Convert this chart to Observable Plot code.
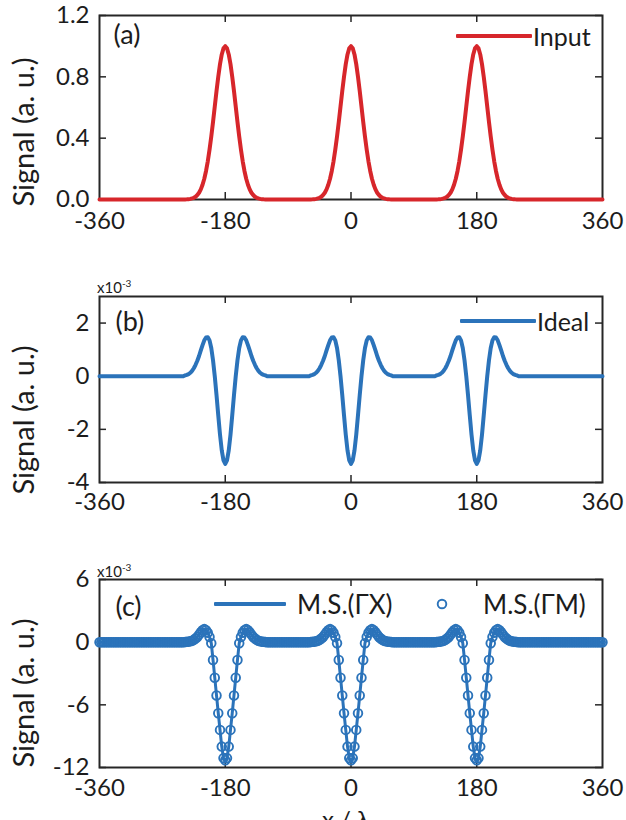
<!DOCTYPE html>
<html><head><meta charset="utf-8">
<script src="https://cdn.jsdelivr.net/npm/d3@7"></script>
<script src="https://cdn.jsdelivr.net/npm/@observablehq/plot@0.6"></script>
<style>
body{margin:0;background:#fff;}
#fig{position:relative;width:626px;height:820px;overflow:hidden;font-family:Lato,"Open Sans",sans-serif;color:#1c1c1c;}
#fig svg{position:absolute;left:0;}
.ov{position:absolute;white-space:nowrap;line-height:30px;height:30px;font-size:25px;}
.sw{position:absolute;height:4px;border-radius:1px;}
.yl{position:absolute;white-space:nowrap;font-size:29px;line-height:1;transform:translate(-50%,-50%) rotate(-90deg);}
</style></head><body><div id="fig"></div>
<script>
// ---- data ----
const xTickValues = [-360, -180, 0, 180, 360];
const innerXTicks = [-180, 0, 180];
const pulseCenters = [-180, 0, 180];
const pulseOffsets = [0,2.5,5,7.5,10,12.5,15,17.5,20,22.5,25,27.5,30,32.5,35,37.5,40,42.5,45,47.5,50,52.5,55,57.5,60];
// (a) input pulse shape (a.u.)
const inputShape = [1.000,0.986,0.946,0.883,0.801,0.707,0.607,0.506,0.411,0.325,0.249,0.186,0.135,0.096,0.066,0.044,0.029,0.018,0.011,0.007,0.004,0.002,0.001,0.0005,0];
// (b) ideal response (x1e-3)
const idealShape = [-3.30,-3.17,-2.79,-2.20,-1.47,-0.71,0,0.60,1.06,1.35,1.47,1.46,1.35,1.17,0.97,0.76,0.58,0.43,0.30,0.20,0.13,0.08,0.05,0.03,0];
// (c) metasurface response (x1e-3)
const measShape = [-11.3,-11.1,-10.0,-8.4,-6.8,-5.1,-3.4,-1.7,-0.1,0.5,0.9,1.15,1.25,1.15,0.95,0.72,0.5,0.35,0.22,0.14,0.08,0.05,0.03,0.01,0];
const yTicksA = [0, 0.4, 0.8, 1.2];
const yTicksB = [-4, -2, 0, 2];
const yTicksC = [-12, -6, 0, 6];

const RED = "#d7262b", BLUE = "#2b73ba", INK = "#262626";
const FONT = "Lato, 'Open Sans', sans-serif";

const xGrid = d3.range(-360, 360 + 1e-9, 2.5);
function build(shape) {
  return xGrid.map(x => {
    const d = d3.min(pulseCenters, c => Math.abs(x - c));
    const i = pulseOffsets.indexOf(d);
    return {x, y: i >= 0 ? shape[i] : 0};
  });
}
const dataA = build(inputShape), dataB = build(idealShape), dataC = build(measShape);

const fig = document.getElementById("fig");
const ML = 99, MR = 24, W = 626;

function panel(p) {
  const fw = W - ML - MR, fh = p.height - p.mt - p.mb;
  const tk = {stroke: INK, strokeWidth: 1.5};
  const marks = [
    Plot.tickX(innerXTicks, {x: d => d, insetTop: fh - 7, ...tk}),
    Plot.tickX(innerXTicks, {x: d => d, insetBottom: fh - 7, ...tk}),
    Plot.tickY(p.yTicks, {y: d => d, insetRight: fw - 7, ...tk}),
    Plot.tickY(p.yTicks, {y: d => d, insetLeft: fw - 7, ...tk}),
    Plot.frame({stroke: INK, strokeWidth: 2}),
    Plot.axisX(xTickValues, {anchor: "bottom", tickSize: 0, tickPadding: p.xpad, fontSize: 24, tickFormat: d => String(d), label: null}),
    Plot.axisY(p.yTicks, {anchor: "left", tickSize: 0, tickPadding: 10, fontSize: 24, tickFormat: p.fmt, label: null}),
    ...p.marks,
    Plot.text([p.tag], {frameAnchor: "top-left", dx: p.tagDx, dy: p.tagDy, textAnchor: "start", lineAnchor: "middle", fontSize: 27})
  ];
  const svg = Plot.plot({
    width: W, height: p.height, marginLeft: ML, marginRight: MR, marginTop: p.mt, marginBottom: p.mb,
    x: {domain: [-360, 360]}, y: {domain: p.ydomain},
    style: {fontFamily: FONT, fontSize: "24px", color: "#1c1c1c", background: "transparent", overflow: "visible"},
    marks
  });
  svg.style.top = p.top + "px";
  fig.appendChild(svg);
  const yl = document.createElement("div"); yl.className = "yl";
  yl.style.left = "22px"; yl.style.top = p.labY + "px"; yl.textContent = "Signal (a. u.)";
  fig.appendChild(yl);
}

panel({top: 0, height: 250, mt: 15, mb: 51, ydomain: [0, 1.2], yTicks: yTicksA, fmt: d => d.toFixed(1),
  tag: "(a)", tagDx: 14, tagDy: 20, labY: 132, xpad: 12,
  marks: [Plot.line(dataA, {x: "x", y: "y", stroke: RED, strokeWidth: 4})]});
panel({top: 255, height: 270, mt: 41, mb: 43, ydomain: [-4, 3], yTicks: yTicksB, fmt: d => String(d),
  tag: "(b)", tagDx: 16, tagDy: 26, labY: 420, xpad: 10,
  marks: [Plot.line(dataB, {x: "x", y: "y", stroke: BLUE, strokeWidth: 4})]});
panel({top: 530, height: 290, mt: 49, mb: 53, ydomain: [-12, 6], yTicks: yTicksC, fmt: d => String(d),
  tag: "(c)", tagDx: 16, tagDy: 28, labY: 693, xpad: 11,
  marks: [
    Plot.line(dataC, {x: "x", y: "y", stroke: BLUE, strokeWidth: 3}),
    Plot.dot(dataC, {x: "x", y: "y", r: 4.3, stroke: BLUE, fill: "none", strokeWidth: 1.9})
  ]});

// ---- overlays: legends, exponent, clipped x label ----
function sw(left, cy, w, color) {
  const d = document.createElement("div"); d.className = "sw";
  d.style.left = left + "px"; d.style.top = (cy - 2) + "px"; d.style.width = w + "px"; d.style.background = color;
  fig.appendChild(d);
}
function txt(left, cy, s, size) {
  const d = document.createElement("div"); d.className = "ov";
  d.style.left = left + "px"; d.style.top = (cy - 15) + "px";
  if (size) d.style.fontSize = size + "px";
  d.innerHTML = s; fig.appendChild(d);
}
sw(456, 36, 76, RED); txt(533, 36, "Input");
sw(460, 321, 76, BLUE); txt(537, 321, "Ideal");
sw(214, 604, 72, BLUE); txt(297, 604, "M.S.(ΓX)", 26);
(function(){
  const ns = "http://www.w3.org/2000/svg";
  const s = document.createElementNS(ns, "svg");
  s.setAttribute("width", 14); s.setAttribute("height", 14);
  s.style.position = "absolute"; s.style.left = "435px"; s.style.top = "597px";
  const c = document.createElementNS(ns, "circle");
  c.setAttribute("cx", 7); c.setAttribute("cy", 7); c.setAttribute("r", 4.3);
  c.setAttribute("fill", "none"); c.setAttribute("stroke", BLUE); c.setAttribute("stroke-width", 1.9);
  s.appendChild(c); fig.appendChild(s);
})();
txt(483, 604, "M.S.(ΓM)", 26);
txt(97, 283, "x10<sup style='font-size:10px'>-3</sup>", 15);
txt(97, 567, "x10<sup style='font-size:10px'>-3</sup>", 15);
const xl = document.createElement("div"); xl.className = "ov";
xl.style.left = "322px"; xl.style.top = "804px"; xl.style.fontSize = "24px"; xl.style.lineHeight = "30px";
xl.textContent = "x / λ"; fig.appendChild(xl);
</script></body></html>
